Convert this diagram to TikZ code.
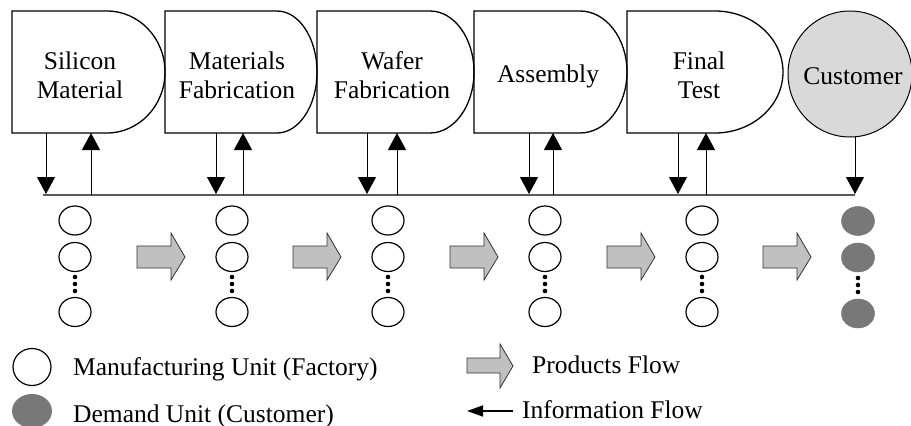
\documentclass[tikz,border=0pt]{standalone}
\usepackage{fontspec}
\setmainfont{Liberation Serif}
\usetikzlibrary{arrows.meta,shapes.geometric}
\definecolor{custfill}{RGB}{217,217,217}
\definecolor{demfill}{RGB}{120,120,120}
\definecolor{flowfill}{RGB}{192,192,192}
\definecolor{busgray}{RGB}{90,90,90}
\begin{document}
\begin{tikzpicture}[x=1pt,y=-1pt,
  boxline/.style={draw=black, line width=1.3pt},
  lbl/.style={font=\fontsize{25.5}{29}\selectfont, align=center, inner sep=0pt},
  leg/.style={font=\fontsize{25.5}{29}\selectfont, inner sep=0pt, anchor=base west},
  infoarrow/.style={line width=1pt, -{Triangle[width=18pt,length=17pt]}},
  bus/.style={draw=busgray, line width=2pt},
  unit/.style={ellipse, draw=black, line width=1.2pt, minimum width=32pt, minimum height=29pt, inner sep=0pt},
  demand/.style={ellipse, fill=demfill, draw=demfill, line width=0.5pt, minimum width=33pt, minimum height=29pt, inner sep=0pt},
  dotm/.style={circle, fill=black, minimum size=4.6pt, inner sep=0pt},
  blockarrow/.style={draw=black!80, line width=0.8pt, fill=flowfill},
]
\useasboundingbox (0,0) rectangle (911,426);

% process boxes (delay shapes)
\foreach \L/\S/\R [count=\i] in {12/107/165, 165/277/317, 317/430/474, 474/580/627, 627/715/783}{
  \pgfmathsetmacro{\rx}{\R-\S}
  \draw[boxline] (\L,11) -- (\S,11) arc[start angle=-90, end angle=90, x radius=\rx, y radius=61] -- (\L,133) -- cycle;
}
\node[lbl] (t1) at (80,75) {Silicon\\Material};
\node[lbl] (t2) at (237,75) {Materials\\Fabrication};
\node[lbl] (t3) at (392,75) {Wafer\\Fabrication};
\node[lbl] (t4) at (548,76) {Assembly};
\node[lbl] (t5) at (699,75) {Final\\Test};
\node[ellipse, draw=black, line width=1pt, fill=custfill, minimum width=124pt, minimum height=126pt, inner sep=0pt] (cust) at (850,74) {};
\node[lbl] (t6) at (853,76) {Customer};

% bus line
\coordinate (busL) at (43,195);
\coordinate (busR) at (855,195);
\draw[bus] (busL) -- (busR);

% information arrows (down: box -> bus, up: bus -> box)
\foreach \d/\u [count=\i] in {46/91, 216/243, 367/397, 529/553, 678/706}{
  \coordinate (dtop\i) at (\d,133);
  \coordinate (dbot\i) at (\d,194);
  \coordinate (ubot\i) at (\u,195);
  \coordinate (utop\i) at (\u,133);
  \draw[infoarrow] (dtop\i) -- (dbot\i);
  \draw[infoarrow] (ubot\i) -- (utop\i);
}
\coordinate (ctop) at (855,137);
\coordinate (cbot) at (855,194);
\draw[infoarrow] (ctop) -- (cbot);

% factory columns
\foreach \x [count=\i] in {75,232,388,545,702}{
  \node[unit] (u\i a) at (\x,220.5) {};
  \node[unit] (u\i b) at (\x,257) {};
  \node[unit] (u\i c) at (\x,312) {};
  \node[dotm] (d\i a) at (\x,277) {};
  \node[dotm] (d\i b) at (\x,284) {};
  \node[dotm] (d\i c) at (\x,291) {};
}
% customer column
\node[demand] (c1) at (858,221) {};
\node[demand] (c2) at (858,257.5) {};
\node[demand] (c3) at (858,313.5) {};
\node[dotm] (cd1) at (858,278) {};
\node[dotm] (cd2) at (858,285) {};
\node[dotm] (cd3) at (858,292) {};

% product flow block arrows
\foreach \a in {137,293,450,607,763}{
  \draw[blockarrow] (\a,246) -- (\a+34,246) -- (\a+34,233) -- (\a+48,257) -- (\a+34,280) -- (\a+34,268) -- (\a,268) -- cycle;
}

% legend
\node[ellipse, draw=black, line width=1.2pt, minimum width=38pt, minimum height=37pt, inner sep=0pt] (lgu) at (32,367) {};
\node[leg] (lgut) at (73,375) {Manufacturing Unit (Factory)};
\node[ellipse, fill=demfill, minimum width=40pt, minimum height=34pt, inner sep=0pt] (lgd) at (32,411) {};
\node[leg] (lgdt) at (73,422) {Demand Unit (Customer)};
\draw[blockarrow] (467,358) -- (500,358) -- (500,344) -- (513,366) -- (500,388) -- (500,373) -- (467,373) -- cycle;
\node[leg] (lgpt) at (532,373) {Products Flow};
\coordinate (lia) at (513,411);
\coordinate (lib) at (467,411);
\draw[line width=1.6pt, -{Triangle[width=11pt,length=16pt]}] (lia) -- (lib);
\node[leg] (lgit) at (522,418) {Information Flow};
\end{tikzpicture}
\end{document}
